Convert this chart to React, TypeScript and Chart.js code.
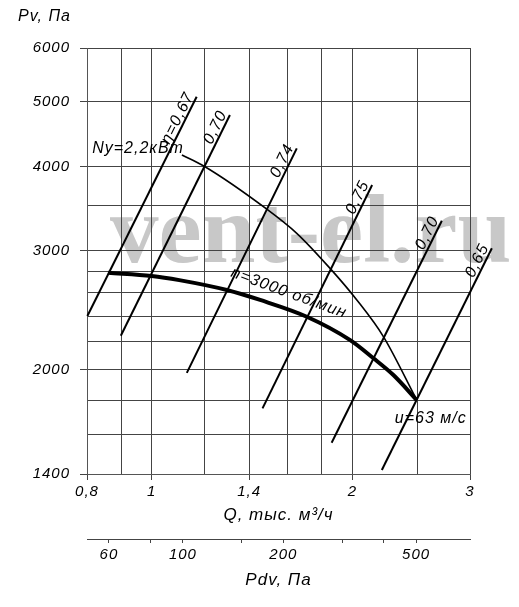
import React, { useEffect, useRef } from 'react';
import { Chart, registerables } from 'chart.js';

Chart.register(...registerables);

// Axis ticks
const qGridTicks = [0.8, 0.9, 1, 1.2, 1.4, 1.6, 1.8, 2, 2.5, 3];
const qLabelTicks = [0.8, 1, 1.4, 2, 3];
const pGridTicks = [1400, 1600, 1800, 2000, 2200, 2400, 2600, 2800, 3000, 3500, 4000, 5000, 6000];
const pLabelTicks = [1400, 2000, 3000, 4000, 5000, 6000];
const pdvTicks = [60, 80, 100, 150, 200, 300, 400, 500];
const pdvLabelTicks = [60, 100, 200, 500];
const PDV_PER_Q2 = 80.6; // Pdv = k * Q^2

// Fan curve n = 3000 rpm
const curveQ = [0.861, 1.0, 1.1, 1.296, 1.454, 1.708, 1.984, 2.15, 2.303, 2.497];
const curveP = [2784, 2754, 2715, 2625, 2537, 2396, 2212, 2079, 1963, 1802];

// Power curve Ny = 2,2 kW
const powerQ = [1.11, 1.197, 1.488, 1.65, 1.851, 2.03, 2.226, 2.497];
const powerP = [4163, 4010, 3460, 3186, 2826, 2537, 2237, 1802];

// Efficiency lines
const etaLabels = ['η=0,67', '0,70', '0,74', '0,75', '0,70', '0,65'];
const etaQ1 = [0.801, 0.899, 1.129, 1.466, 1.861, 2.213];
const etaP1 = [2402, 2245, 1978, 1752, 1558, 1419];
const etaQ2 = [1.168, 1.31, 1.65, 2.14, 2.722, 3.235];
const etaP2 = [5079, 4773, 4258, 3757, 3326, 3027];

const FONT = 'Liberation Sans';
const fmt = (v: number) => String(v).replace('.', ',');

export default function App() {
  const ref = useRef<HTMLCanvasElement | null>(null);

  useEffect(() => {
    const canvas = ref.current;
    if (!canvas) return;

    const textPlugin = {
      id: 'texts',
      beforeDraw(chart: any) {
        const { ctx, chartArea } = chart;
        ctx.letterSpacing = '1px';
        ctx.save();
        ctx.letterSpacing = '0px';
        ctx.font = `bold 97px "Liberation Serif"`;
        ctx.fillStyle = 'rgb(200,200,200)';
        ctx.textBaseline = 'alphabetic';
        ctx.textAlign = 'left';
        ctx.fillText('vent-el.ru', chartArea.left + 23, chartArea.top + 214);
        ctx.restore();
      },
      afterDatasetsDraw(chart: any) {
        const { ctx, chartArea } = chart;
        const x = chart.scales.x;
        const y = chart.scales.y;
        ctx.save();
        ctx.fillStyle = '#000';
        ctx.font = `italic 16px "${FONT}"`;
        etaLabels.forEach((t, i) => {
          const x1 = x.getPixelForValue(etaQ1[i]);
          const y1 = y.getPixelForValue(etaP1[i]);
          const x2 = x.getPixelForValue(etaQ2[i]);
          const y2 = y.getPixelForValue(etaP2[i]);
          const a = Math.atan2(y2 - y1, x2 - x1);
          ctx.save();
          ctx.translate(x2, y2);
          ctx.rotate(a);
          ctx.textAlign = 'right';
          ctx.textBaseline = 'alphabetic';
          ctx.fillText(t, 0, -3);
          ctx.restore();
        });
        // n = 3000 label
        ctx.save();
        ctx.translate(x.getPixelForValue(1.31), y.getPixelForValue(2750));
        ctx.rotate((20 * Math.PI) / 180);
        ctx.textAlign = 'left';
        ctx.textBaseline = 'alphabetic';
        ctx.fillText('n=3000 об/мин', 0, 0);
        ctx.restore();
        // Ny label
        const px0 = x.getPixelForValue(powerQ[0]);
        const py0 = y.getPixelForValue(powerP[0]);
        ctx.textAlign = 'right';
        ctx.textBaseline = 'alphabetic';
        ctx.fillText('Ny=2,2кВт', px0 + 2, py0 - 2);
        // u label
        const pxe = x.getPixelForValue(curveQ[curveQ.length - 1]);
        const pye = y.getPixelForValue(curveP[curveP.length - 1]);
        ctx.textAlign = 'left';
        ctx.fillText('u=63 м/с', pxe - 22, pye + 23);
        // Pv title
        ctx.font = `italic 16px "${FONT}"`;
        ctx.textBaseline = 'middle';
        ctx.fillText('Pv, Па', chartArea.left - 69, chartArea.top - 31);
        ctx.restore();
      },
    };

    const lineDs = (xs: number[], ys: number[], w: number) => ({
      data: xs.map((q, i) => ({ x: q, y: ys[i] })),
      borderColor: '#000',
      borderWidth: w,
      pointRadius: 0,
      fill: false,
      clip: false as any,
      cubicInterpolationMode: 'monotone' as const,
    });

    const datasets: any[] = [
      lineDs(curveQ, curveP, 4),
      lineDs(powerQ, powerP, 1.6),
      ...etaLabels.map((_, i) => lineDs([etaQ1[i], etaQ2[i]], [etaP1[i], etaP2[i]], 2)),
    ];

    const gridColor = '#444';
    const tickFont = { family: FONT, size: 15, style: 'italic' as const };

    const chart = new Chart(canvas, {
      type: 'line',
      data: { datasets },
      plugins: [textPlugin],
      options: {
        animation: false,
        responsive: false,
        devicePixelRatio: 1,
        layout: { padding: { top: 48, right: 49, left: 0, bottom: 8 } },
        plugins: { legend: { display: false }, tooltip: { enabled: false } },
        scales: {
          x: {
            type: 'logarithmic',
            position: 'bottom',
            weight: 0,
            min: 0.8,
            max: 3,
            afterBuildTicks: (s: any) => {
              s.ticks = qGridTicks.map((v) => ({ value: v }));
            },
            afterFit: (s: any) => {
              s.height = 65;
            },
            grid: {
              color: gridColor,
              lineWidth: 1,
              tickLength: 6,
              tickColor: (c: any) => (c.tick && qLabelTicks.includes(c.tick.value) ? gridColor : 'rgba(0,0,0,0)'),
            },
            border: { color: '#555' },
            ticks: {
              autoSkip: false,
              maxRotation: 0,
              padding: 3,
              color: '#000',
              font: tickFont,
              callback: (v: any) => (qLabelTicks.includes(v) ? fmt(v) : ''),
            },
            title: {
              display: true,
              text: 'Q, тыс. м³/ч',
              color: '#000',
              font: { family: FONT, size: 17, style: 'italic' },
              padding: { top: 0, bottom: 14 },
            },
          },
          x2: {
            type: 'logarithmic',
            position: 'bottom',
            weight: 1,
            min: PDV_PER_Q2 * 0.8 * 0.8,
            max: PDV_PER_Q2 * 3 * 3,
            afterBuildTicks: (s: any) => {
              s.ticks = pdvTicks.map((v) => ({ value: v }));
            },
            afterFit: (s: any) => {
              s.height = 60;
            },
            grid: {
              drawOnChartArea: false,
              color: gridColor,
              tickLength: 4,
              tickColor: gridColor,
            },
            border: { color: gridColor },
            ticks: {
              autoSkip: false,
              maxRotation: 0,
              padding: 3,
              color: '#000',
              font: tickFont,
              callback: (v: any) => (pdvLabelTicks.includes(v) ? String(v) : ''),
            },
            title: {
              display: true,
              text: 'Pdv, Па',
              color: '#000',
              font: { family: FONT, size: 17, style: 'italic' },
              padding: { top: 0, bottom: 9 },
            },
          },
          y: {
            type: 'logarithmic',
            position: 'left',
            min: 1400,
            max: 6000,
            afterBuildTicks: (s: any) => {
              s.ticks = pGridTicks.map((v) => ({ value: v }));
            },
            afterFit: (s: any) => {
              s.width = 87;
            },
            grid: {
              color: gridColor,
              lineWidth: 1,
              tickLength: 7,
              tickColor: (c: any) => (c.tick && pLabelTicks.includes(c.tick.value) ? gridColor : 'rgba(0,0,0,0)'),
            },
            border: { color: '#555' },
            ticks: {
              autoSkip: false,
              padding: 10,
              color: '#000',
              font: tickFont,
              callback: (v: any) => (pLabelTicks.includes(v) ? String(v) : ''),
            },
          },
        },
      } as any,
    });

    return () => chart.destroy();
  }, []);

  return (
    <div style={{ position: 'absolute', left: 0, top: 0, width: 519, height: 607, background: '#fff' }}>
      <canvas ref={ref} width={519} height={607} style={{ display: 'block' }} />
    </div>
  );
}
